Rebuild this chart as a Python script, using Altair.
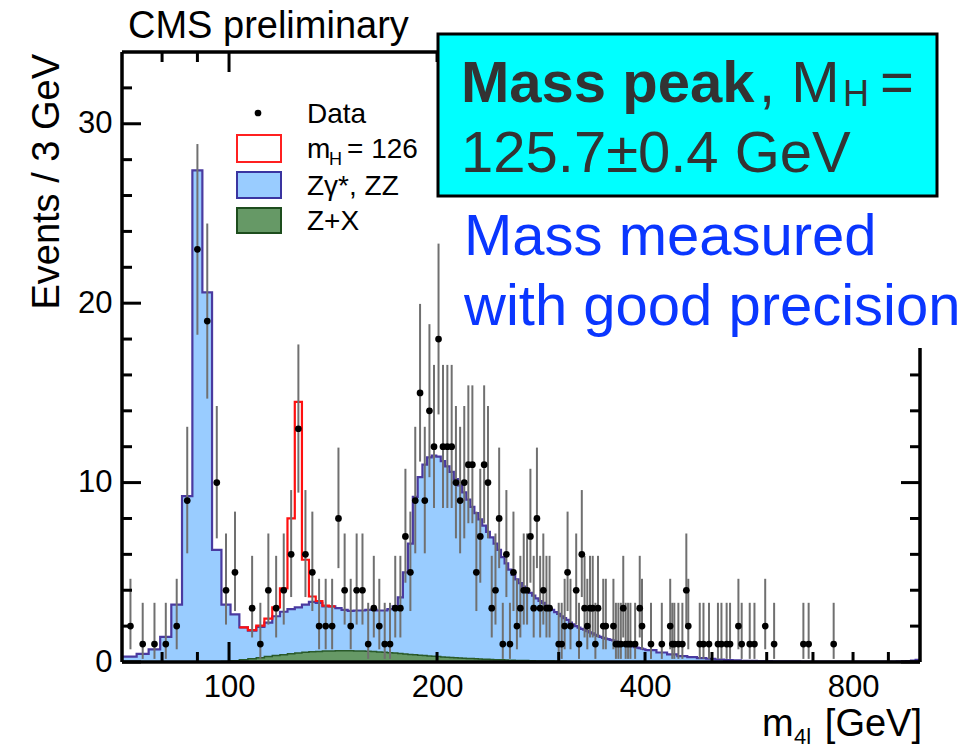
import altair as alt
import pandas as pd
import numpy as np

W, H = 798, 610
FONT = "Liberation Sans"

# ---------------- data ----------------
# 3 GeV bins, first left edge 70.5 GeV, bin centres 72, 75, ... 399
bin_first_edge = 70.5
bin_width = 3.0

# total background (Zgamma*, ZZ + Z+X), events / 3 GeV, bins centred 72 ... 399
bkg_total = [
    0.3, 0.45, 0.7, 1.4, 3.2, 9.25, 27.4, 20.6, 6.25, 3.2,
    2.65, 1.93, 1.75, 1.95, 2.2, 2.55, 2.8, 2.95, 3.05, 3.2,
    3.35, 3.3, 3.1, 3.1, 3.0, 2.9, 2.85, 2.87, 2.87, 2.9,
    2.9, 2.87, 2.87, 2.95, 3.1, 3.6, 5.0, 6.6, 9.2, 10.3,
    11.0, 11.4, 11.5, 11.45, 11.2, 10.9, 10.6, 10.2, 9.85, 9.45,
    9.05, 8.65, 8.3, 7.95, 7.6, 7.25, 6.95, 6.6, 6.25, 5.85,
    5.5, 5.15, 4.85, 4.6, 4.4, 4.2, 4.0, 3.85, 3.7, 3.55,
    3.4, 3.3, 3.15, 3.0, 2.9, 2.78, 2.68, 2.55, 2.45, 2.35,
    2.2, 2.1, 2.0, 1.92, 1.85, 1.8, 1.72, 1.65, 1.6, 1.52,
    1.46, 1.4, 1.35, 1.3, 1.27, 1.23, 1.2, 1.15, 1.1, 1.06,
    1.02, 0.98, 0.95, 0.9, 0.87, 0.83, 0.8, 0.77, 0.74, 0.71,
]

# Z+X reducible background, same bins
zx = [
    0, 0, 0, 0, 0, 0, 0, 0, 0.01, 0.03,
    0.07, 0.12, 0.18, 0.24, 0.3, 0.36, 0.41, 0.46, 0.5, 0.54,
    0.57, 0.59, 0.61, 0.62, 0.63, 0.63, 0.63, 0.62, 0.61, 0.6,
    0.58, 0.56, 0.54, 0.52, 0.5, 0.47, 0.45, 0.42, 0.4, 0.38,
    0.36, 0.34, 0.32, 0.3, 0.28, 0.27, 0.25, 0.24, 0.22, 0.21,
    0.2, 0.19, 0.18, 0.17, 0.16, 0.15, 0.14, 0.13, 0.12, 0.12,
    0.11, 0.1, 0.1, 0.09, 0.09, 0.08, 0.08, 0.07, 0.07, 0.06,
    0.06, 0.06, 0.05, 0.05, 0.05, 0.04, 0.04, 0.04, 0.04, 0.03,
    0.03, 0.03, 0.03, 0.03, 0.02, 0.02, 0.02, 0.02, 0.02, 0.02,
    0.02, 0.02, 0.02, 0.02, 0.01, 0.01, 0.01, 0.01, 0.01, 0.01,
    0.01, 0.01, 0.01, 0.01, 0.01, 0.01, 0.01, 0.01, 0.01, 0.01,
]

# high-mass tail of the background, 15 GeV groups from 400.5 to 1000.5 GeV
tail_first_edge = 400.5
tail_width = 15.0
bkg_tail = [
    0.66, 0.53, 0.42, 0.33, 0.27, 0.22, 0.18, 0.14, 0.11, 0.09,
    0.07, 0.06, 0.05, 0.045, 0.04, 0.035, 0.03, 0.03, 0.025, 0.025,
    0.02, 0.02, 0.02, 0.02, 0.02, 0.02, 0.02, 0.02, 0.02, 0.02,
    0.02, 0.02, 0.02, 0.02, 0.02, 0.03, 0.03, 0.05, 0.08, 0.12,
]

# Higgs signal m_H = 126 GeV, stacked on top of the background
sig_mass = [105, 108, 111, 114, 117, 120, 123, 126, 129, 132, 135, 138, 141]
sig_vals = [0, 0.03, 0.08, 0.22, 0.5, 1.3, 5.05, 11.45, 2.5, 0.3, 0.1, 0.04, 0]

# observed events (bin centre in GeV, count)
data_mass = [
    72, 75, 78, 81, 84, 87, 90, 93, 96, 99, 102, 108, 111, 114, 117, 120, 123, 126,
    129, 132, 135, 138, 141, 144, 147, 150, 153, 156, 159, 162, 165, 168, 171, 174,
    177, 180, 183, 186, 189, 192, 195, 198, 201, 204, 207, 210, 213, 216, 219, 222,
    225, 228, 231, 234, 237, 240, 243, 246, 249, 252, 255, 258, 261, 264, 267, 270,
    273, 276, 279, 282, 285, 288, 291, 300, 303, 306, 309, 312, 318, 321, 324, 327,
    330, 333, 336, 339, 342, 348, 351, 360, 363, 366, 369, 372, 375, 378, 381, 387,
    393, 396, 408, 423, 435, 438, 441, 447, 453, 459, 462, 480, 486, 495, 510, 516,
    525, 531, 546, 552, 567, 576, 597, 615, 678, 690, 750,
]
data_count = [
    2, 1, 1, 1, 2, 9, 23, 19, 10, 4, 5, 3, 1, 4, 3, 4, 6, 13,
    6, 5, 2, 2, 2, 8, 4, 2, 4, 4, 1, 3, 2, 1, 1, 3,
    3, 7, 5, 9, 15, 9, 14, 12, 18, 12, 12, 12, 10, 9, 10, 11,
    11, 5, 7, 11, 10, 3, 4, 8, 1, 6, 1, 5, 2, 3, 4, 4,
    7, 3, 8, 3, 4, 3, 3, 1, 1, 2, 5, 2, 4, 1, 6, 3,
    2, 3, 3, 1, 3, 2, 2, 2, 1, 1, 1, 3, 1, 1, 1, 1,
    3, 2, 1, 1, 2, 1, 1, 1, 1, 4, 2, 1, 1, 1, 1, 1,
    1, 1, 2, 1, 1, 1, 2, 1, 1, 1, 1,
]

# Garwood 68% Poisson intervals for n = 0 ... 23
garwood_lo = [0, 0.173, 0.708, 1.367, 2.086, 2.840, 3.620, 4.419, 5.232, 6.057, 6.891, 7.734,
              8.585, 9.441, 10.30, 11.17, 12.04, 12.92, 13.80, 14.68, 15.57, 16.45, 17.35, 18.24]
garwood_hi = [1.841, 3.300, 4.638, 5.918, 7.163, 8.382, 9.584, 10.77, 11.95, 13.11, 14.27, 15.42,
              16.56, 17.70, 18.83, 19.96, 21.08, 22.20, 23.32, 24.44, 25.55, 26.66, 27.76, 28.87]

x_tick_labels = [100, 200, 400, 800]
x_minor_ticks = [80, 90, 200, 300, 400, 500, 600, 700, 800, 900]
x_major_ticks = [100]
y_tick_labels = [0, 10, 20, 30]
y_minor_ticks = [2, 4, 6, 8, 12, 14, 16, 18, 22, 24, 26, 28, 32]

# ---------------- tables ----------------
n_fine = len(bkg_total)
left_edges = [bin_first_edge + bin_width * i for i in range(n_fine)]
left_edges[0] = 70.0
centres = [bin_first_edge + bin_width * i + bin_width / 2 for i in range(n_fine)]
tail_left = [tail_first_edge + tail_width * j for j in range(len(bkg_tail))]

tot_x = left_edges + tail_left + [tail_first_edge + tail_width * len(bkg_tail)]
tot_y = bkg_total + bkg_tail + [bkg_tail[-1]]
df_tot = pd.DataFrame({"x": tot_x, "y": tot_y})

zx_x = left_edges + [tail_first_edge]
zx_y = zx + [zx[-1]]
df_zx = pd.DataFrame({"x": zx_x, "y": zx_y})

tot_by_centre = {round(c): v for c, v in zip(centres, bkg_total)}
sig_x = [m - bin_width / 2 for m in sig_mass] + [sig_mass[-1] + bin_width / 2]
sig_y = [tot_by_centre[m] + s for m, s in zip(sig_mass, sig_vals)]
sig_y = sig_y + [sig_y[-1]]
df_sig = pd.DataFrame({"x": sig_x, "y": sig_y})

df_data = pd.DataFrame({
    "x": data_mass,
    "n": data_count,
    "lo": [garwood_lo[n] for n in data_count],
    "hi": [garwood_hi[n] for n in data_count],
})

xs = alt.Scale(type="log", domain=[70, 1000], nice=False)
ys = alt.Scale(domain=[0, 34], nice=False, zero=True)
xax = alt.Axis(values=x_tick_labels, format="d", ticks=False, domain=False, grid=False,
               labelFontSize=31, labelPadding=10, labelFont=FONT, labelColor="black",
               title=None, labelFlush=False, labelOverlap=False)
yax = alt.Axis(values=y_tick_labels, ticks=False, domain=False, grid=False,
               labelFontSize=31, labelPadding=10, labelFont=FONT, labelColor="black",
               title=None, labelOverlap=False)

X = alt.X("x:Q", scale=xs, axis=xax)
Y = alt.Y("y:Q", scale=ys, axis=yax)

layers = []

# filled histograms
layers.append(alt.Chart(df_tot).mark_area(interpolate="step-after", color="#99ccff", clip=True)
              .encode(x=X, y=Y))
layers.append(alt.Chart(df_zx).mark_area(interpolate="step-after", color="#669966", clip=True)
              .encode(x=X, y=Y))
layers.append(alt.Chart(df_zx).mark_line(interpolate="step-after", color="#2a5a2a", strokeWidth=1.5, clip=True)
              .encode(x=X, y=Y))
layers.append(alt.Chart(df_tot).mark_line(interpolate="step-after", color="#4a3aa0", strokeWidth=2.2, clip=True)
              .encode(x=X, y=Y))
layers.append(alt.Chart(df_sig).mark_line(interpolate="step-after", color="#ff1010", strokeWidth=2.2, clip=True)
              .encode(x=X, y=Y))

# data with error bars
layers.append(alt.Chart(df_data).mark_rule(color="#707070", strokeWidth=2)
              .encode(x=alt.X("x:Q", scale=xs, axis=xax),
                      y=alt.Y("lo:Q", scale=ys, axis=yax), y2="hi:Q"))
layers.append(alt.Chart(df_data).mark_circle(size=45, color="black", opacity=1)
              .encode(x=alt.X("x:Q", scale=xs, axis=xax),
                      y=alt.Y("n:Q", scale=ys, axis=yax)))

# ticks
def xticks(vals, length):
    d = pd.DataFrame({"x": vals})
    b = alt.Chart(d).mark_rule(color="black", strokeWidth=3).encode(
        x=alt.X("x:Q", scale=xs, axis=xax), y=alt.value(H), y2=alt.value(H - length))
    t = alt.Chart(d).mark_rule(color="black", strokeWidth=3).encode(
        x=alt.X("x:Q", scale=xs, axis=xax), y=alt.value(0), y2=alt.value(length))
    return [b, t]

def yticks(vals, length):
    d = pd.DataFrame({"y": vals})
    l = alt.Chart(d).mark_rule(color="black", strokeWidth=3).encode(
        y=alt.Y("y:Q", scale=ys, axis=yax), x=alt.value(0), x2=alt.value(length))
    r = alt.Chart(d).mark_rule(color="black", strokeWidth=3).encode(
        y=alt.Y("y:Q", scale=ys, axis=yax), x=alt.value(W), x2=alt.value(W - length))
    return [l, r]

layers += xticks(x_minor_ticks, 10)
layers += xticks(x_major_ticks, 20)
layers += yticks(y_minor_ticks, 10)
layers += yticks(y_tick_labels, 19)

one = pd.DataFrame({"k": [0]})

def rule(**enc):
    return alt.Chart(one).mark_rule(color="black", strokeWidth=3.5).encode(**enc)

# frame
layers.append(rule(x=alt.value(0), y=alt.value(0), y2=alt.value(H)))
layers.append(rule(x=alt.value(W), y=alt.value(0), y2=alt.value(H)))
layers.append(rule(x=alt.value(0), x2=alt.value(W), y=alt.value(0)))
layers.append(rule(x=alt.value(0), x2=alt.value(W), y=alt.value(H)))

def txt(s, x, y, size, color="black", weight="normal", align="left", baseline="alphabetic", angle=0):
    kw = dict(text=s, fontSize=size, font=FONT, color=color, fontWeight=weight,
              align=align, baseline=baseline)
    if angle:
        kw["angle"] = angle
    return alt.Chart(one).mark_text(**kw).encode(x=alt.value(x), y=alt.value(y))

def box(x1, x2, y1, y2, fill, stroke, sw=2):
    return alt.Chart(one).mark_rect(fill=fill, stroke=stroke, strokeWidth=sw).encode(
        x=alt.value(x1), x2=alt.value(x2), y=alt.value(y1), y2=alt.value(y2))

# legend
layers.append(alt.Chart(one).mark_circle(size=45, color="black", opacity=1)
              .encode(x=alt.value(136), y=alt.value(61)))
layers.append(txt("Data", 185, 71, 28))
layers.append(box(115, 159, 83, 110, "white", "#ff2020"))
layers.append(txt("m", 185, 106, 28))
layers.append(txt("H", 207, 113, 18))
layers.append(txt("= 126", 225, 106, 28))
layers.append(box(115, 159, 120, 146, "#99ccff", "#3a34a0"))
layers.append(txt("Zγ*, ZZ", 185, 143, 28))
layers.append(box(115, 159, 156, 181, "#669966", "#1d4d1d"))
layers.append(txt("Z+X", 185, 178, 28))

# titles
layers.append(txt("CMS preliminary", 6, -14, 38))
layers.append(txt("Events / 3 GeV", -63, 2, 38, align="right", angle=270))
layers.append(txt("m", 640, 684, 38))
layers.append(txt("4l", 672, 692, 22))
layers.append(txt("[GeV]", 800, 684, 38, align="right"))

# annotation boxes
layers.append(box(333, 850, 145, 296, "white", "white", 0))
layers.append(box(316, 815, -18, 144, "#00ffff", "black", 3))
layers.append(txt("Mass peak", 339, 50, 58, color="#333333", weight="bold"))
layers.append(txt(", M", 637, 50, 58, color="#333333"))
layers.append(txt("H", 721, 54, 36, color="#333333"))
layers.append(txt("=", 758, 50, 58, color="#333333"))
layers.append(txt("125.7±0.4 GeV", 339, 120, 58, color="#333333"))
layers.append(txt("Mass measured", 342, 203, 58, color="#0a36ff"))
layers.append(txt("with good precision", 342, 273, 58, color="#0a36ff"))

chart = alt.layer(*layers).properties(
    width=W, height=H,
    padding={"left": 122, "top": 52, "right": 49, "bottom": 92},
    autosize=alt.AutoSizeParams(type="none"),
    background="white",
).configure_view(stroke="transparent", strokeWidth=0)

chart.save("out.html", embed_options={"renderer": "svg", "actions": False})
